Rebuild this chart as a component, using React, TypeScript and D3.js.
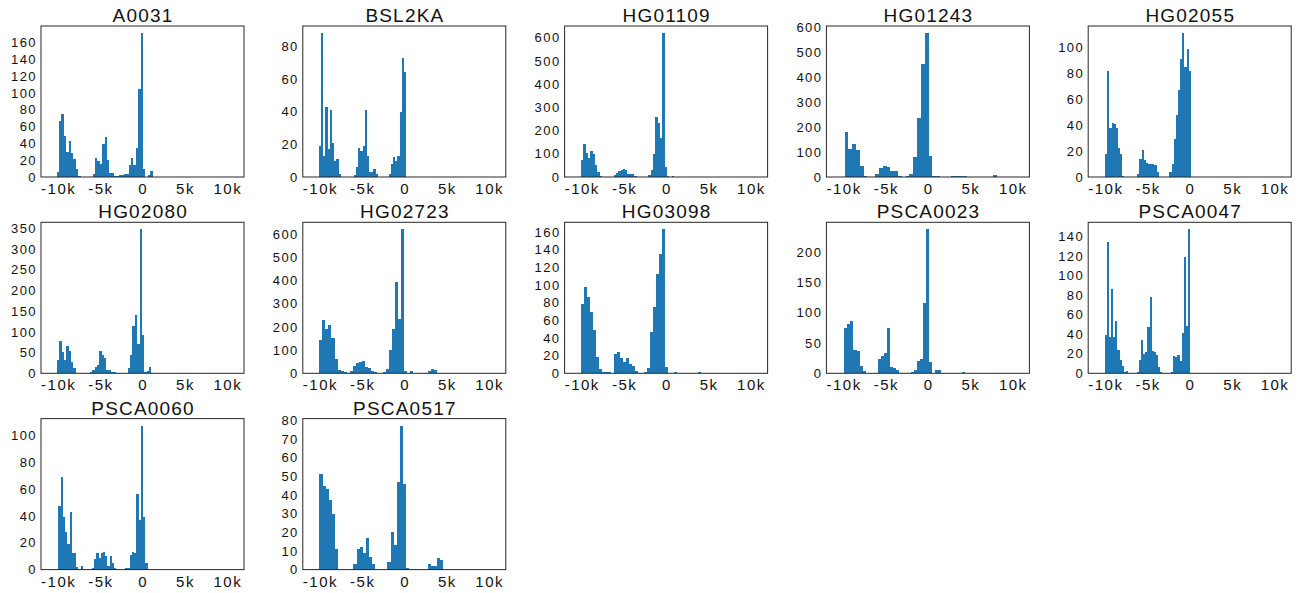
import React from 'react';
import * as d3 from 'd3';

const samples = ['A0031', 'BSL2KA', 'HG01109', 'HG01243', 'HG02055', 'HG02080', 'HG02723', 'HG03098', 'PSCA0023', 'PSCA0047', 'PSCA0060', 'PSCA0517'];
const binLo = [-10150, -10100, -10060, -9850, -10000, -10110, -10030, -10060, -9870, -10070, -9950, -10030];
const binHi = [1200, 220, 930, 8200, 130, 1040, 4200, 4170, 4430, 80, 610, 4590];
const yStep = [20, 20, 100, 100, 20, 50, 100, 20, 50, 20, 20, 10];
const xTickValues = [-10000, -5000, 0, 5000, 10000];
const xTickLabels = ['-10k', '-5k', '0', '5k', '10k'];

const countsA0031 = [6, 66, 75, 49, 30, 43, 28, 21, 9, 1, 0, 0, 0, 0, 0, 3, 22, 19, 16, 39, 47, 20, 5, 5, 1, 1, 2, 2, 3, 3, 14, 22, 14, 34, 105, 171, 10, 0, 2, 7];
const countsBSL2KA = [19, 88, 13, 43, 17, 41, 21, 10, 11, 2, 0, 0, 0, 0, 0, 0, 1, 6, 18, 16, 19, 41, 13, 3, 3, 5, 2, 0, 0, 0, 0, 0, 2, 8, 12, 10, 13, 40, 73, 64];
const countsHG01109 = [72, 140, 102, 80, 112, 100, 52, 22, 5, 0, 0, 0, 0, 0, 8, 18, 25, 30, 33, 30, 12, 12, 12, 3, 0, 0, 0, 0, 0, 8, 30, 100, 258, 232, 170, 619, 45, 5, 1, 5];
const countsHG01243 = [178, 112, 133, 108, 45, 3, 0, 0, 12, 35, 44, 40, 23, 23, 5, 0, 3, 12, 80, 237, 450, 575, 85, 3, 3, 0, 0, 0, 4, 4, 4, 4, 1, 1, 1, 1, 0, 0, 0, 8];
const countsHG02055 = [18, 82, 38, 42, 41, 38, 22, 18, 1, 0, 0, 0, 0, 0, 0, 2, 14, 21, 13, 11, 10, 10, 10, 9, 4, 0, 0, 0, 0, 0, 4, 10, 29, 48, 67, 91, 111, 85, 99, 82];
const countsHG02080 = [33, 78, 52, 33, 66, 54, 27, 12, 0, 0, 0, 0, 0, 0, 2, 9, 14, 19, 53, 43, 36, 8, 8, 2, 2, 0, 0, 0, 0, 0, 12, 43, 114, 140, 70, 347, 92, 2, 5, 15];
const countsHG02723 = [143, 228, 190, 207, 153, 62, 13, 9, 5, 0, 10, 31, 45, 48, 52, 27, 22, 10, 5, 2, 2, 5, 18, 100, 190, 393, 232, 620, 10, 0, 10, 0, 0, 3, 3, 3, 10, 17, 14, 3];
const countsHG03098 = [78, 98, 86, 69, 49, 19, 5, 1, 1, 1, 0, 22, 24, 17, 13, 17, 11, 8, 3, 0, 0, 1, 6, 47, 75, 112, 135, 163, 7, 0, 0, 1, 0, 0, 0, 0, 0, 0, 0, 1];
const countsPSCA0023 = [75, 81, 87, 38, 37, 12, 3, 0, 0, 0, 0, 23, 28, 33, 75, 10, 8, 5, 0, 0, 0, 0, 2, 6, 20, 23, 116, 237, 18, 0, 5, 5, 0, 0, 0, 0, 0, 0, 0, 2];
const countsPSCA0047 = [39, 134, 37, 86, 37, 53, 24, 14, 7, 1, 2, 0, 0, 0, 0, 1, 14, 34, 20, 22, 47, 78, 23, 22, 19, 6, 1, 0, 0, 0, 0, 1, 18, 17, 19, 13, 41, 119, 48, 147];
const countsPSCA0060 = [47, 69, 39, 28, 19, 43, 12, 12, 2, 0, 3, 0, 0, 0, 0, 1, 8, 12, 9, 12, 13, 10, 3, 10, 5, 1, 0, 0, 0, 0, 1, 1, 11, 13, 12, 56, 37, 107, 39, 5];
const countsPSCA0517 = [51, 45, 43, 37, 30, 11, 0, 0, 0, 0, 0, 3, 11, 12, 9, 17, 7, 3, 0, 0, 0, 0, 4, 20, 13, 47, 77, 46, 1, 0, 0, 0, 0, 0, 0, 3, 2, 2, 6, 5];

const counts = [countsA0031, countsBSL2KA, countsHG01109, countsHG01243, countsHG02055, countsHG02080, countsHG02723, countsHG03098, countsPSCA0023, countsPSCA0047, countsPSCA0060, countsPSCA0517];

const W = 1298;
const H = 593;
const PW = 203;
const PH = 151;
const FONT = "'Liberation Sans', Arial, Helvetica, sans-serif";
const TEXT = '#111111';
const BAR = '#1f77b4';

function Panel({ idx }: { idx: number }) {
  const r = Math.floor(idx / 5);
  const c = idx % 5;
  const left = 41 + 261.8 * c;
  const top = 26 + 196.3 * r;
  const data = counts[idx];
  const x = d3.scaleLinear().domain([-12000, 12000]).range([0, PW]);
  const maxC = d3.max(data) as number;
  const yTop = maxC * 1.05;
  const y = d3.scaleLinear().domain([0, yTop]).range([PH, 0]);
  const n = data.length;
  const edges = d3.range(n + 1).map((k) => binLo[idx] + ((binHi[idx] - binLo[idx]) * k) / n);
  const yTicks = d3.range(0, yTop, yStep[idx]);
  const lsY = 1.4;
  const lsX = 1.5;
  const lsT = 1.2;
  return (
    <g transform={`translate(${left},${top})`}>
      {data.map((v, k) =>
        v > 0 ? (
          <rect
            key={k}
            x={x(edges[k])}
            width={x(edges[k + 1]) - x(edges[k])}
            y={y(v)}
            height={PH - y(v)}
            fill={BAR}
            shapeRendering="crispEdges"
          />
        ) : null
      )}
      <rect x={0} y={0} width={PW} height={PH} fill="none" stroke="#262626" strokeWidth={1} />
      <text x={PW / 2 + lsT / 2} y={-4} textAnchor="middle" fontSize={19} letterSpacing={lsT} fill={TEXT}>
        {samples[idx]}
      </text>
      {xTickValues.map((v, k) => (
        <text key={v} x={x(v) + lsX / 2} y={PH + 17} textAnchor="middle" fontSize={15} letterSpacing={lsX} fill={TEXT}>
          {xTickLabels[k]}
        </text>
      ))}
      {yTicks.map((v) => (
        <text key={v} x={-5.5 + lsY} y={y(v)} dy="0.36em" textAnchor="end" fontSize={13} letterSpacing={lsY} fill={TEXT}>
          {String(v)}
        </text>
      ))}
    </g>
  );
}

export default function App() {
  return (
    <svg
      width={W}
      height={H}
      style={{ position: 'absolute', left: 0, top: 0, background: '#ffffff' }}
      fontFamily={FONT}
    >
      <rect x={0} y={0} width={W} height={H} fill="#ffffff" />
      {samples.map((s, i) => (
        <Panel key={s} idx={i} />
      ))}
    </svg>
  );
}
